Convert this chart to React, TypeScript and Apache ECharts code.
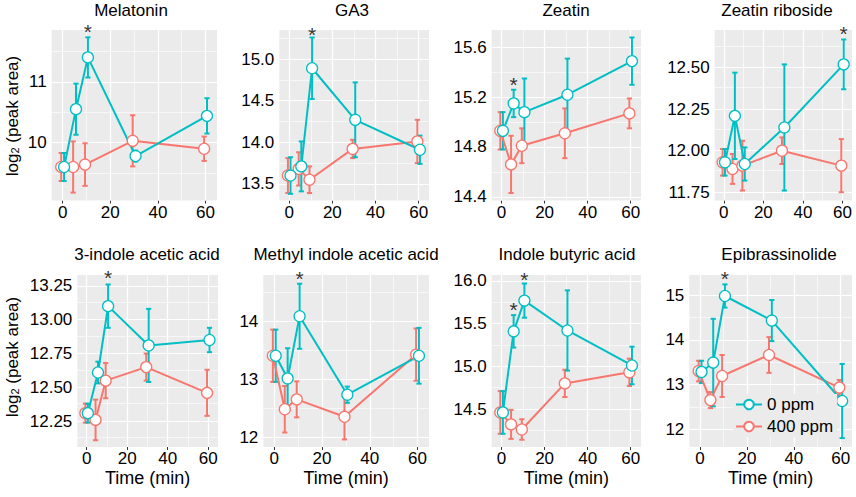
import React, { useEffect, useRef } from "react";
import * as echarts from "echarts";

// ---------- data ----------
const times = [0, 5, 10, 30, 60];
const seriesNames = ["0 ppm", "400 ppm"];
const panelNames = [
  "Melatonin",
  "GA3",
  "Zeatin",
  "Zeatin riboside",
  "3-indole acetic acid",
  "Methyl indole acetic acid",
  "Indole butyric acid",
  "Epibrassinolide",
];
const xTicks = [0, 20, 40, 60];

const melatoninCtrl = [9.6, 10.55, 11.4, 9.78, 10.44];
const melatoninCtrlSE = [0.23, 0.42, 0.33, 0.09, 0.29];
const melatoninTrt = [9.6, 9.6, 9.64, 10.03, 9.9];
const melatoninTrtSE = [0.23, 0.42, 0.35, 0.42, 0.2];
const melatoninTicks = [10, 11];
const melatoninStars = [[10, 11.9]];

const ga3Ctrl = [13.6, 13.71, 14.89, 14.27, 13.91];
const ga3CtrlSE = [0.22, 0.3, 0.37, 0.45, 0.17];
const ga3Trt = [13.6, 13.68, 13.55, 13.92, 14.01];
const ga3TrtSE = [0.21, 0.2, 0.16, 0.11, 0.26];
const ga3Ticks = [13.5, 14.0, 14.5, 15.0];
const ga3Stars = [[10, 15.36]];

const zeatinCtrl = [14.93, 15.15, 15.08, 15.22, 15.49];
const zeatinCtrlSE = [0.15, 0.11, 0.27, 0.29, 0.19];
const zeatinTrt = [14.93, 14.66, 14.81, 14.91, 15.07];
const zeatinTrtSE = [0.15, 0.23, 0.14, 0.2, 0.12];
const zeatinTicks = [14.4, 14.8, 15.2, 15.6];
const zeatinStars = [[5, 15.34]];

const zeatinRibCtrl = [11.93, 12.21, 11.92, 12.14, 12.52];
const zeatinRibCtrlSE = [0.08, 0.26, 0.1, 0.38, 0.15];
const zeatinRibTrt = [11.93, 11.89, 11.91, 12.0, 11.91];
const zeatinRibTrtSE = [0.08, 0.09, 0.15, 0.08, 0.16];
const zeatinRibTicks = [11.75, 12.0, 12.25, 12.5];
const zeatinRibStars = [[60, 12.735]];

const iaaCtrl = [12.31, 12.61, 13.1, 12.81, 12.85];
const iaaCtrlSE = [0.07, 0.08, 0.16, 0.27, 0.09];
const iaaTrt = [12.31, 12.26, 12.55, 12.65, 12.46];
const iaaTrtSE = [0.07, 0.15, 0.13, 0.1, 0.17];
const iaaTicks = [12.25, 12.5, 12.75, 13.0, 13.25];
const iaaStars = [[10, 13.345]];

const meiaaCtrl = [13.41, 13.02, 14.09, 12.74, 13.41];
const meiaaCtrlSE = [0.45, 0.52, 0.56, 0.14, 0.48];
const meiaaTrt = [13.41, 12.49, 12.66, 12.36, 13.43];
const meiaaTrtSE = [0.45, 0.4, 0.31, 0.39, 0.45];
const meiaaTicks = [12, 13, 14];
const meiaaStars = [[10, 14.83]];

const ibaCtrl = [14.46, 15.41, 15.77, 15.42, 15.01];
const ibaCtrlSE = [0.25, 0.19, 0.2, 0.47, 0.22];
const ibaTrt = [14.46, 14.32, 14.26, 14.8, 14.93];
const ibaTrtSE = [0.25, 0.17, 0.12, 0.16, 0.16];
const ibaTicks = [14.5, 15.0, 15.5, 16.0];
const ibaStars = [[5, 15.73], [10, 16.08]];

const ebrCtrl = [13.28, 13.49, 14.98, 14.43, 12.63];
const ebrCtrlSE = [0.25, 0.98, 0.26, 0.46, 0.83];
const ebrTrt = [13.3, 12.65, 13.19, 13.66, 12.93];
const ebrTrtSE = [0.23, 0.18, 0.47, 0.4, 0.17];
const ebrTicks = [12, 13, 14, 15];
const ebrStars = [[10, 15.49]];

// ---------- styling / layout ----------
const FONT = "Liberation Sans, Arial, Helvetica, sans-serif";
const TEAL = "#00BFC4";
const SALMON = "#F8766D";
const PANEL_BG = "#EBEBEB";
const DODGE = 0.6;
const X_MIN = -4.6;
const X_MAX = 64.8;

const panels = [
  { ctrl: melatoninCtrl, ctrlSE: melatoninCtrlSE, trt: melatoninTrt, trtSE: melatoninTrtSE, ticks: melatoninTicks, dec: 0, stars: melatoninStars, yMin: 9.05, yMax: 11.85 },
  { ctrl: ga3Ctrl, ctrlSE: ga3CtrlSE, trt: ga3Trt, trtSE: ga3TrtSE, ticks: ga3Ticks, dec: 1, stars: ga3Stars, yMin: 13.3, yMax: 15.35 },
  { ctrl: zeatinCtrl, ctrlSE: zeatinCtrlSE, trt: zeatinTrt, trtSE: zeatinTrtSE, ticks: zeatinTicks, dec: 1, stars: zeatinStars, yMin: 14.37, yMax: 15.74 },
  { ctrl: zeatinRibCtrl, ctrlSE: zeatinRibCtrlSE, trt: zeatinRibTrt, trtSE: zeatinRibTrtSE, ticks: zeatinRibTicks, dec: 2, stars: zeatinRibStars, yMin: 11.7, yMax: 12.727 },
  { ctrl: iaaCtrl, ctrlSE: iaaCtrlSE, trt: iaaTrt, trtSE: iaaTrtSE, ticks: iaaTicks, dec: 2, stars: iaaStars, yMin: 12.06, yMax: 13.33 },
  { ctrl: meiaaCtrl, ctrlSE: meiaaCtrlSE, trt: meiaaTrt, trtSE: meiaaTrtSE, ticks: meiaaTicks, dec: 0, stars: meiaaStars, yMin: 11.84, yMax: 14.8 },
  { ctrl: ibaCtrl, ctrlSE: ibaCtrlSE, trt: ibaTrt, trtSE: ibaTrtSE, ticks: ibaTicks, dec: 1, stars: ibaStars, yMin: 14.055, yMax: 16.07 },
  { ctrl: ebrCtrl, ctrlSE: ebrCtrlSE, trt: ebrTrt, trtSE: ebrTrtSE, ticks: ebrTicks, dec: 0, stars: ebrStars, yMin: 11.6, yMax: 15.45 },
];

const layout = [
  { left: 51.7, right: 217, top: 30, bottom: 200.5, titleX: 131, titleY: 10 },
  { left: 279.3, right: 429, top: 30, bottom: 200.5, titleX: 352, titleY: 10 },
  { left: 491.7, right: 641, top: 30, bottom: 200.5, titleX: 566, titleY: 10 },
  { left: 714.7, right: 852, top: 30, bottom: 200.5, titleX: 777, titleY: 10 },
  { left: 77.3, right: 218, top: 275, bottom: 447, titleX: 147, titleY: 254.5 },
  { left: 263.3, right: 429, top: 275, bottom: 447, titleX: 346, titleY: 254.5 },
  { left: 491.7, right: 641, top: 275, bottom: 447, titleX: 567, titleY: 254.5 },
  { left: 689.3, right: 852, top: 275, bottom: 447, titleX: 779, titleY: 254.5 },
];

function minorOf(ticks: number[], min: number, max: number): number[] {
  const step = ticks[1] - ticks[0];
  const out: number[] = [];
  for (let k = -1; k < ticks.length; k++) {
    const v = ticks[0] + step * k + step / 2;
    if (v >= min && v <= max) out.push(v);
  }
  return out;
}

function buildOption() {
  const grid: any[] = [];
  const xAxis: any[] = [];
  const yAxis: any[] = [];
  const series: any[] = [];
  const graphic: any[] = [];

  panels.forEach((p, i) => {
    const L = layout[i];
    const bottomRow = i >= 4;
    grid.push({
      left: L.left,
      top: L.top,
      width: L.right - L.left,
      height: L.bottom - L.top,
      show: true,
      backgroundColor: PANEL_BG,
      borderWidth: 0,
      containLabel: false,
      outerBoundsMode: "none",
    });
    xAxis.push({
      type: "value",
      gridIndex: i,
      min: X_MIN,
      max: X_MAX,
      axisLine: { show: false },
      axisTick: { show: true, length: 3, lineStyle: { color: "#333", width: 1 }, customValues: xTicks },
      axisLabel: { customValues: xTicks, fontSize: 17, color: "#000", margin: 3, fontFamily: FONT },
      splitLine: { show: false },
      minorSplitLine: { show: false },
      name: bottomRow ? "Time (min)" : "",
      nameLocation: "middle",
      nameGap: 22,
      nameTextStyle: { fontSize: 18, color: "#000", fontFamily: FONT },
    });
    yAxis.push({
      type: "value",
      gridIndex: i,
      min: p.yMin,
      max: p.yMax,
      axisLine: { show: false },
      axisTick: { show: true, length: 3, lineStyle: { color: "#333", width: 1 }, customValues: p.ticks },
      axisLabel: {
        customValues: p.ticks,
        fontSize: 17,
        color: "#000",
        margin: 5,
        fontFamily: FONT,
        formatter: (v: number) => Number(v).toFixed(p.dec),
      },
      splitLine: { show: false },
      minorSplitLine: { show: false },
    });

    // panel gridlines via markLine on the library scales
    const minorX = minorOf(xTicks, X_MIN, X_MAX);
    const minorY = minorOf(p.ticks, p.yMin, p.yMax);
    const lines: any[] = [
      ...minorX.map((v) => ({ xAxis: v, lineStyle: { width: 0.6 } })),
      ...minorY.map((v) => ({ yAxis: v, lineStyle: { width: 0.6 } })),
      ...xTicks.map((v) => ({ xAxis: v, lineStyle: { width: 1.2 } })),
      ...p.ticks.map((v) => ({ yAxis: v, lineStyle: { width: 1.2 } })),
    ];
    series.push({
      type: "line",
      name: "grid" + i,
      xAxisIndex: i,
      yAxisIndex: i,
      data: [],
      z: 1,
      silent: true,
      markLine: {
        z: 1,
        silent: true,
        symbol: ["none", "none"],
        label: { show: false },
        emphasis: { disabled: true },
        lineStyle: { color: "#FFFFFF", type: "solid", opacity: 1 },
        animation: false,
        data: lines,
      },
    });

    const groups = [
      { name: seriesNames[1], mean: p.trt, se: p.trtSE, color: SALMON, dx: -DODGE },
      { name: seriesNames[0], mean: p.ctrl, se: p.ctrlSE, color: TEAL, dx: DODGE },
    ];

    groups.forEach((g) => {
      const errData = times.map((t, k) => [t + g.dx, g.mean[k] - g.se[k], g.mean[k] + g.se[k]]);
      series.push({
        type: "custom",
        name: "err-" + g.name + i,
        xAxisIndex: i,
        yAxisIndex: i,
        data: errData,
        encode: { x: 0, y: [1, 2] },
        z: 2,
        silent: true,
        renderItem: (params: any, api: any) => {
          const x = api.value(0);
          const a = api.coord([x, api.value(1)]);
          const b = api.coord([x, api.value(2)]);
          const w = 2.6;
          const style = { stroke: g.color, lineWidth: 2, fill: "none" };
          return {
            type: "group",
            children: [
              { type: "line", shape: { x1: a[0], y1: a[1], x2: b[0], y2: b[1] }, style },
              { type: "line", shape: { x1: a[0] - w, y1: a[1], x2: a[0] + w, y2: a[1] }, style },
              { type: "line", shape: { x1: b[0] - w, y1: b[1], x2: b[0] + w, y2: b[1] }, style },
            ],
          };
        },
      });
    });

    groups.forEach((g) => {
      series.push({
        type: "line",
        name: g.name,
        xAxisIndex: i,
        yAxisIndex: i,
        data: times.map((t, k) => [t + g.dx, g.mean[k]]),
        z: 3,
        symbol: "circle",
        symbolSize: 11,
        showSymbol: true,
        lineStyle: { color: g.color, width: 2, type: "solid" },
        itemStyle: { color: "#FFFFFF", borderColor: g.color, borderWidth: 1.3 },
        emphasis: { disabled: true },
        silent: true,
      });
    });

    series.push({
      type: "scatter",
      name: "stars" + i,
      xAxisIndex: i,
      yAxisIndex: i,
      data: p.stars.map((s) => [s[0] + DODGE, s[1]]),
      symbolSize: 1,
      itemStyle: { color: "rgba(0,0,0,0)" },
      label: {
        show: true,
        position: "inside",
        formatter: "*",
        fontSize: 21,
        color: "#000",
        fontFamily: FONT,
        offset: [0, 5],
      },
      clip: false,
      silent: true,
      z: 5,
    });

    graphic.push({
      type: "text",
      x: L.titleX,
      y: L.titleY,
      silent: true,
      style: {
        text: panelNames[i],
        fontSize: 17,
        fontFamily: FONT,
        fill: "#000",
        align: "center",
        verticalAlign: "middle",
      },
    });
  });

  const yTitle = (x: number, y: number) => ({
    type: "text",
    x,
    y,
    rotation: Math.PI / 2,
    silent: true,
    style: {
      text: "{a|log}{b|2}{a| (peak area)}",
      rich: {
        a: { fontSize: 17, fontFamily: FONT, fill: "#000", color: "#000" },
        b: { fontSize: 11, fontFamily: FONT, fill: "#000", color: "#000", verticalAlign: "bottom" },
      },
      align: "center",
      verticalAlign: "middle",
    },
  });
  graphic.push(yTitle(12, 116));
  graphic.push(yTitle(12, 357));

  return {
    animation: false,
    backgroundColor: "#FFFFFF",
    textStyle: { fontFamily: FONT },
    grid,
    xAxis,
    yAxis,
    series,
    graphic,
    legend: {
      data: [seriesNames[0], seriesNames[1]],
      orient: "vertical",
      left: 733,
      top: 394,
      z: 10,
      itemWidth: 26,
      itemHeight: 12,
      itemGap: 5,
      padding: [2, 4, 2, 2],
      backgroundColor: PANEL_BG,
      selectedMode: false,
      textStyle: { fontSize: 17, color: "#000", fontFamily: FONT },
    },
  };
}

export default function App() {
  const ref = useRef<HTMLDivElement>(null);
  useEffect(() => {
    if (!ref.current) return;
    const chart = echarts.init(ref.current, undefined, { renderer: "svg" });
    chart.setOption(buildOption() as any);
    return () => chart.dispose();
  }, []);
  return (
    <div
      ref={ref}
      style={{ position: "fixed", left: 0, top: 0, width: 856, height: 497, background: "#fff" }}
    />
  );
}
